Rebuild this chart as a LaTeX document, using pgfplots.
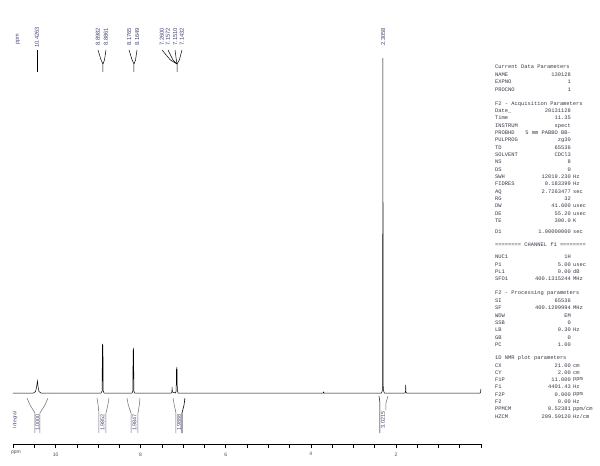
\documentclass[border=0pt]{standalone}
\usepackage{fontspec}
\setmainfont{Liberation Sans}
\setmonofont{Liberation Mono}
\usepackage{pgfplots}
\pgfplotsset{compat=1.18}
\definecolor{lbl}{RGB}{70,70,120}
\definecolor{intc}{RGB}{105,105,105}
\definecolor{ptxt}{RGB}{55,55,70}
\newcommand\prow[4]{%
 \node[anchor=west,inner sep=0] at (495pt,{(466-#1)*1pt}) {#2};
 \node[anchor=east,inner sep=0] at (571pt,{(466-#1)*1pt}) {#3};
 \node[anchor=west,inner sep=0] at (573pt,{(466-#1)*1pt}) {#4};}
\newcommand\phead[2]{\node[anchor=west,inner sep=0] at (495pt,{(466-#1)*1pt}) {#2};}
\begin{document}
\begin{tikzpicture}
\useasboundingbox (0,0) rectangle (600pt,466pt);
\begin{axis}[at={(13pt,22pt)}, anchor=south west, scale only axis,
  width=468pt, height=441pt, xmin=0, xmax=11, ymin=-51, ymax=390,
  x dir=reverse, clip=false,
  axis x line=bottom, axis y line=none, x axis line style={-, line width=0.5pt},
  xtick={2,4,6,8,10}, minor xtick={0,0.5,...,11},
  tick align=outside, major tick length=4pt, minor tick length=4pt,
  every tick/.style={black, line width=0.5pt},
  /pgf/number format/assume math mode=true,
  ticklabel style={font=\fontsize{5}{6}\selectfont, text=black!70},
  xticklabel style={yshift=-1pt}]
% spectrum
\addplot[black, line width=0.5pt] coordinates {
(11,0) (10.52,0) (10.47,1.5) (10.445,6) (10.426,12) (10.41,6) (10.39,1.5) (10.34,0)
(8.93,0) (8.905,2) (8.899,49) (8.892,12) (8.886,48) (8.880,2) (8.86,0)
(8.20,0) (8.183,2) (8.177,43) (8.171,14) (8.165,45) (8.159,2) (8.14,0)
(7.28,0) (7.265,1) (7.260,6) (7.255,1) (7.18,0) (7.165,2) (7.157,24) (7.151,15) (7.146,26) (7.138,3) (7.12,0)
(3.71,0) (3.70,1) (3.69,0)
(2.34,0) (2.32,2) (2.312,8) (2.306,335) (2.300,8) (2.29,2) (2.27,0)
(1.79,0) (1.775,1) (1.770,8) (1.765,1) (1.75,0)
(0.02,0) (0.01,1) (0.0,4)
};
% integral brackets
\addplot[intc, line width=0.5pt] coordinates {(10.671,-5) (10.60,-12) (10.483,-20) (10.483,-40)};
\addplot[intc, line width=0.5pt] coordinates {(10.177,-5) (10.25,-12) (10.366,-20) (10.366,-40)};
\addplot[intc, line width=0.5pt] coordinates {(9.026,-5) (9.00,-12) (8.979,-20) (8.979,-40)};
\addplot[intc, line width=0.5pt] coordinates {(8.744,-5) (8.77,-12) (8.814,-20) (8.814,-40)};
\addplot[intc, line width=0.5pt] coordinates {(8.321,-5) (8.29,-12) (8.226,-20) (8.226,-40)};
\addplot[intc, line width=0.5pt] coordinates {(8.015,-5) (8.03,-12) (8.062,-20) (8.062,-40)};
\addplot[intc, line width=0.5pt] coordinates {(7.240,-5) (7.21,-12) (7.169,-20) (7.169,-40)};
\addplot[black, line width=0.6pt] coordinates {(6.958,-5) (6.98,-12) (7.028,-20) (7.028,-40)};
\addplot[black, line width=0.5pt] coordinates {(2.398,-3) (2.374,-10) (2.374,-40)};
\addplot[intc, line width=0.5pt] coordinates {(2.186,-3) (2.233,-10) (2.233,-17)};
% integral labels
\begin{scope}[every node/.style={rotate=90, font=\fontsize{5.5}{6}\selectfont, text=lbl, inner sep=0}]
\node at (axis cs:10.425,-29.5) {1.0000};
\node at (axis cs:8.897,-29.5) {1.9852};
\node at (axis cs:8.144,-29.5) {1.9847};
\node at (axis cs:7.098,-29.5) {1.9888};
\node at (axis cs:2.303,-27) {3.0215};
\end{scope}
% peak leader lines
\addplot[black, line width=0.5pt] coordinates {(10.436,343) (10.436,321)};
\addplot[black, line width=0.5pt] coordinates {(9.002,343) (8.93,333) (8.885,329) (8.885,321)};
\addplot[black, line width=0.5pt] coordinates {(8.814,343) (8.85,333) (8.885,329)};
\addplot[black, line width=0.5pt] coordinates {(8.273,343) (8.20,333) (8.156,329) (8.156,321)};
\addplot[black, line width=0.5pt] coordinates {(8.085,343) (8.12,333) (8.156,329)};
\addplot[black, line width=0.5pt] coordinates {(7.498,343) (7.30,333) (7.145,329) (7.145,321)};
\addplot[black, line width=0.5pt] coordinates {(7.357,343) (7.24,333) (7.145,329)};
\addplot[black, line width=0.5pt] coordinates {(7.192,343) (7.16,333) (7.145,329)};
\addplot[black, line width=0.5pt] coordinates {(7.028,343) (7.09,333) (7.145,329)};
% peak labels
\begin{scope}[every node/.style={rotate=90, anchor=west, font=\fontsize{5.8}{6}\selectfont, text=lbl, inner sep=0}]
\node at (axis cs:10.436,345) {10.4263};
\node at (axis cs:9.002,347) {8.8982};
\node at (axis cs:8.814,347) {8.8861};
\node at (axis cs:8.273,347) {8.1765};
\node at (axis cs:8.085,347) {8.1649};
\node at (axis cs:7.498,347) {7.2600};
\node at (axis cs:7.357,347) {7.1572};
\node at (axis cs:7.192,347) {7.1510};
\node at (axis cs:7.028,347) {7.1432};
\node at (axis cs:2.303,347) {2.3058};
\end{scope}
\end{axis}
\node[rotate=90, font=\fontsize{5.5}{6}\selectfont, text=lbl, inner sep=0] at (18pt,427pt) {ppm};
\node[font=\fontsize{5}{6}\selectfont, text=black!70, inner sep=0] at (16pt,13pt) {ppm};
\node[rotate=90, font=\fontsize{5}{5}\selectfont, text=lbl, inner sep=0] at (15pt,46pt) {Integral};
% parameter panel
\begin{scope}[font=\ttfamily\fontsize{5.4}{6}\selectfont, text=ptxt]
\phead{67}{Current Data Parameters}
\prow{75}{NAME}{130128}{}
\prow{82}{EXPNO}{1}{}
\prow{90}{PROCNO}{1}{}
\phead{104}{F2 - Acquisition Parameters}
\prow{111}{Date\_}{20131128}{}
\prow{118}{Time}{11.35}{}
\prow{126}{INSTRUM}{spect}{}
\prow{133}{PROBHD}{5 mm PABBO BB-}{}
\prow{140}{PULPROG}{zg30}{}
\prow{148}{TD}{65536}{}
\prow{155}{SOLVENT}{CDCl3}{}
\prow{162}{NS}{8}{}
\prow{170}{DS}{0}{}
\prow{177}{SWH}{12019.230}{Hz}
\prow{184}{FIDRES}{0.183399}{Hz}
\prow{192}{AQ}{2.7263477}{sec}
\prow{199}{RG}{32}{}
\prow{206}{DW}{41.600}{usec}
\prow{214}{DE}{55.20}{usec}
\prow{221}{TE}{300.0}{K}
\prow{232}{D1}{1.00000000}{sec}
\phead{245}{======== CHANNEL f1 ========}
\prow{257}{NUC1}{1H}{}
\prow{265}{P1}{5.00}{usec}
\prow{272}{PL1}{0.00}{dB}
\prow{279}{SFO1}{400.1315244}{MHz}
\phead{293}{F2 - Processing parameters}
\prow{301}{SI}{65536}{}
\prow{308}{SF}{400.1299994}{MHz}
\prow{316}{WDW}{EM}{}
\prow{323}{SSB}{0}{}
\prow{330}{LB}{0.30}{Hz}
\prow{338}{GB}{0}{}
\prow{345}{PC}{1.00}{}
\phead{358}{1D NMR plot parameters}
\prow{366}{CX}{21.00}{cm}
\prow{373}{CY}{2.00}{cm}
\prow{380}{F1P}{11.000}{ppm}
\prow{387}{F1}{4401.43}{Hz}
\prow{395}{F2P}{0.000}{ppm}
\prow{402}{F2}{0.00}{Hz}
\prow{409}{PPMCM}{0.52381}{ppm/cm}
\prow{417}{HZCM}{209.59120}{Hz/cm}
\end{scope}
\end{tikzpicture}
\end{document}
